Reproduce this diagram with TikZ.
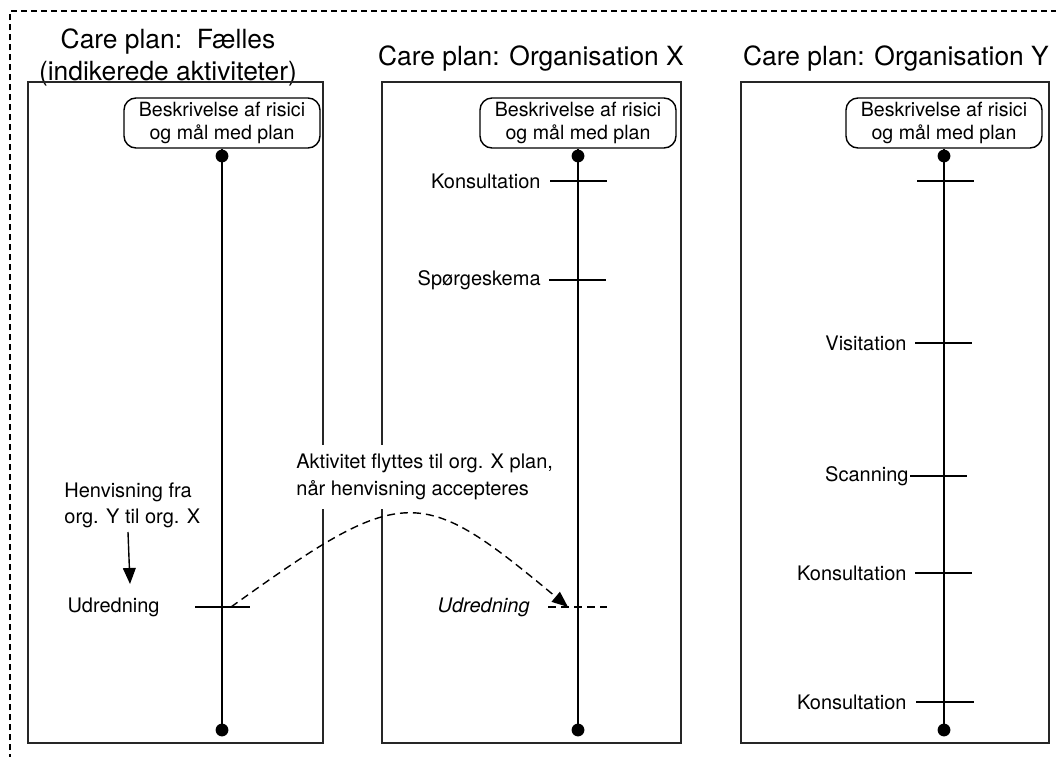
\documentclass[tikz,border=0pt]{standalone}
\usepackage{fontspec}
\setmainfont{TeX Gyre Heros}
\usetikzlibrary{arrows.meta}
\begin{document}
\begin{tikzpicture}[x=0.5pt,y=-0.5pt,
  panel/.style={draw=black!85, line width=0.9pt},
  title/.style={font=\fontsize{13.2}{16}\selectfont, align=center, inner sep=0pt},
  goal/.style={draw, rounded corners=6pt, line width=0.7pt, minimum width=98pt,
    minimum height=25pt, align=center, font=\fontsize{9.8}{11.5}\selectfont,
    inner sep=1pt, fill=white},
  lbl/.style={font=\fontsize{10}{12}\selectfont, inner sep=0pt},
  timeline/.style={line width=0.75pt},
  tick/.style={line width=0.75pt},
  dot/.style={circle, fill=black, inner sep=0pt, minimum size=6.4pt},
  dsh/.style={dash pattern=on 4pt off 2.5pt, line width=0.7pt},
  tip/.style={-{Triangle[length=8pt,width=6.4pt]}},
]
\useasboundingbox (0,0) rectangle (1056,756);

% outer dashed frame
\draw[dash pattern=on 3pt off 2pt, line width=0.55pt] (10,770) -- (10,11) -- (1070,11);

% panel titles
\node[title] (t1) at (168,57) {Care plan:\ \ Fælles\\(indikerede aktiviteter)};
\node[title] (t2) at (531,59) {Care plan: Organisation X};
\node[title] (t3) at (896,59) {Care plan: Organisation Y};

% panels
\draw[panel] (28,82) rectangle (323,743);
\draw[panel] (382,82) rectangle (681,743);
\draw[panel] (741,82) rectangle (1049,743);

% goal boxes
\node[goal] (g1) at (222,123) {Beskrivelse af risici\\og mål med plan};
\node[goal] (g2) at (578,123) {Beskrivelse af risici\\og mål med plan};
\node[goal] (g3) at (944,123) {Beskrivelse af risici\\og mål med plan};

% timelines with end dots
\foreach \p/\x in {1/222,2/578,3/944}{
  \node[dot] (d\p t) at (\x,156) {};
  \node[dot] (d\p b) at (\x,730) {};
  \draw[timeline] (g\p.south) -- (d\p b.center);
}

% panel 1: shared plan
\coordinate (u1a) at (195,607); \coordinate (u1b) at (250,607);
\draw[tick] (u1a) -- (u1b);
\node[lbl, anchor=east] (u1) at (160,607) {Udredning};
\node[lbl, anchor=west, align=left, font=\fontsize{10}{13}\selectfont] (henv) at (64,505)
  {Henvisning fra\\org. Y til org. X};
\coordinate (h1) at (128,532); \coordinate (h2) at (130,584);
\draw[tip, line width=0.7pt] (h1) -- (h2);

% panel 2: organisation X
\coordinate (x1a) at (550,181); \coordinate (x1b) at (607,181);
\draw[tick] (x1a) -- (x1b);
\node[lbl, anchor=east] (x1) at (541,181) {Konsultation};
\coordinate (x2a) at (549,280); \coordinate (x2b) at (606,280);
\draw[tick] (x2a) -- (x2b);
\node[lbl, anchor=east] (x2) at (541,280) {Spørgeskema};
\coordinate (x3a) at (548,607); \coordinate (x3b) at (607,607);
\draw[dsh] (x3a) -- (x3b);
\node[lbl, anchor=east, font=\fontsize{10}{12}\selectfont\itshape] (x3) at (530,607) {Udredning};

% panel 3: organisation Y
\coordinate (y0a) at (917,181); \coordinate (y0b) at (974,181);
\draw[tick] (y0a) -- (y0b);
\coordinate (y1a) at (915,343); \coordinate (y1b) at (972,343);
\draw[tick] (y1a) -- (y1b);
\node[lbl, anchor=east] (y1) at (907,343) {Visitation};
\coordinate (y2a) at (910,476); \coordinate (y2b) at (967,476);
\draw[tick] (y2a) -- (y2b);
\node[lbl, anchor=east] (y2) at (909,476) {Scanning};
\coordinate (y3a) at (915,573); \coordinate (y3b) at (972,573);
\draw[tick] (y3a) -- (y3b);
\node[lbl, anchor=east] (y3) at (907,573) {Konsultation};
\coordinate (y4a) at (916,702); \coordinate (y4b) at (974,702);
\draw[tick] (y4a) -- (y4b);
\node[lbl, anchor=east] (y4) at (907,702) {Konsultation};

% transfer of the activity between plans
\node[lbl, anchor=west, align=left, fill=white, inner xsep=2pt, inner ysep=4.5pt,
  font=\fontsize{10}{13.5}\selectfont] (move) at (292,477)
  {Aktivitet flyttes til org. X plan,\\når henvisning accepteres};
\coordinate (m1) at (231,607); \coordinate (m2) at (568,607);
\draw[dsh, tip] (m1) .. controls (405,482) and (420,484) .. (m2);
\end{tikzpicture}
\end{document}
